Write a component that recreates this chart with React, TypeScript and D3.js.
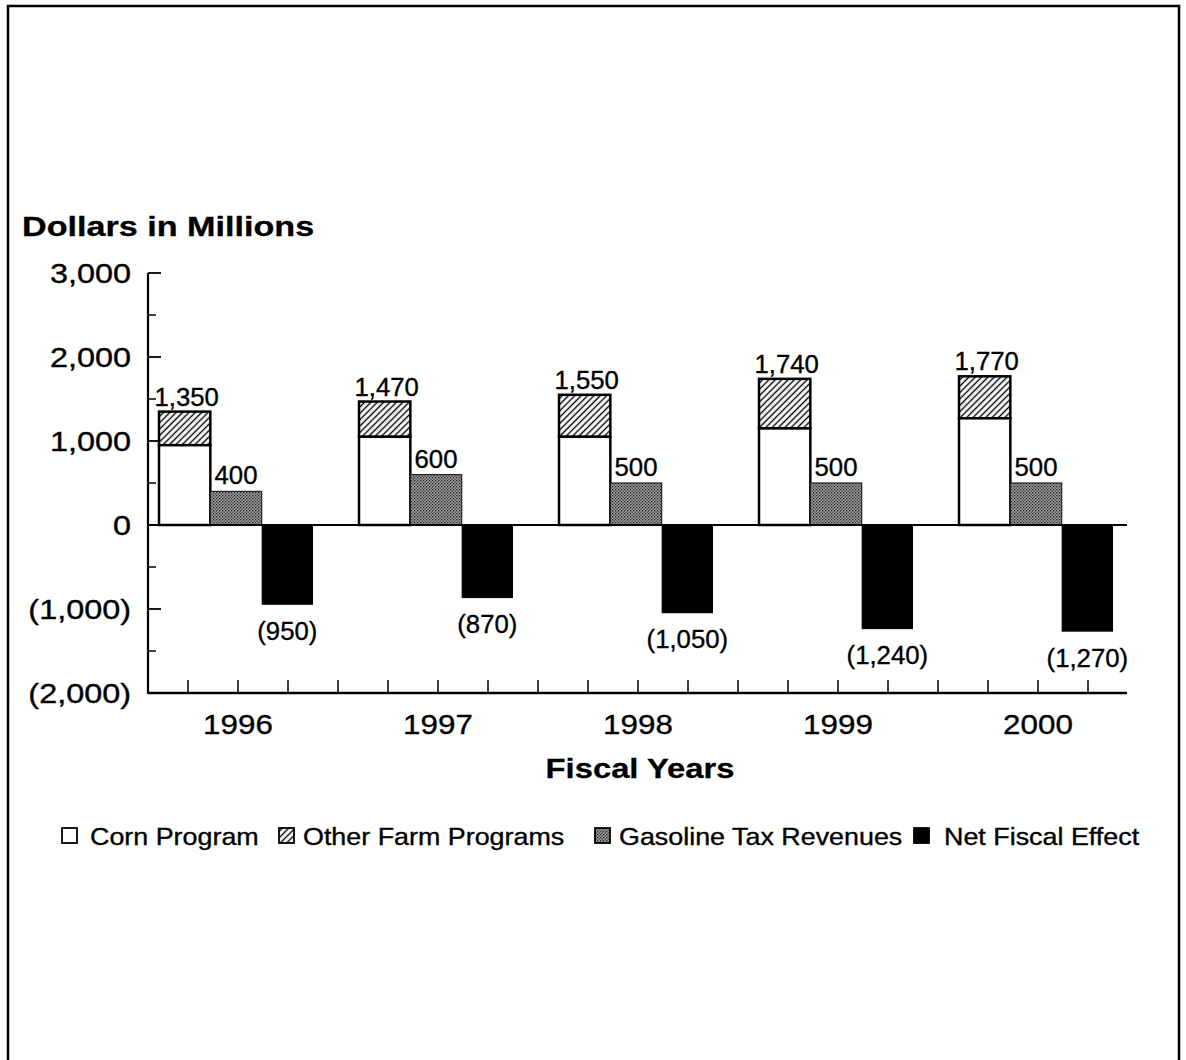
import React from "react";
import * as d3 from "d3";

const years = ["1996", "1997", "1998", "1999", "2000"];
const cornProgram = [950, 1050, 1050, 1150, 1270];
const otherFarmPrograms = [400, 420, 500, 590, 500];
const gasolineTaxRevenues = [400, 600, 500, 500, 500];
const netFiscalEffect = [-950, -870, -1050, -1240, -1270];
const yTickValues = [3000, 2000, 1000, 0, -1000, -2000];
const yMinorTickValues = [2500, 1500, 500, -500, -1500];
const seriesKeys = ["corn", "gas", "net"];
const legendLabels = ["Corn Program", "Other Farm Programs", "Gasoline Tax Revenues", "Net Fiscal Effect"];

const FONT = "'Liberation Sans', Arial, Helvetica, sans-serif";

function T({ x, y, sx = 1, anchor = "start", size, weight = "normal", children }: any) {
  return (
    <text
      transform={`translate(${x},${y}) scale(${sx},1)`}
      textAnchor={anchor}
      fontSize={size}
      fontWeight={weight}
      fontFamily={FONT}
      fill="#000"
      stroke="#000"
      strokeWidth={weight === "bold" ? 0.3 : 0.35}
    >
      {children}
    </text>
  );
}

const fmt = (v: number) => (v < 0 ? `(${d3.format(",")(-v)})` : d3.format(",")(v));

export default function App() {
  const W = 1186;
  const H = 1060;
  const axisLeft = 148;
  const axisRight = 1127;
  const y = d3.scaleLinear().domain([-2000, 3000]).range([693, 273]);
  const x0 = d3.scaleBand().domain(years).range([136, 1136]);
  const x1 = d3.scaleBand().domain(seriesKeys).range([23, 177]);
  const slot = d3.scaleLinear().domain([0, 20]).range([138, 1138]);
  const xTicks = d3.range(1, 20).map((i) => slot(i));
  const bw = x1.bandwidth();

  const legendItems = [
    { box: 62, text: 90, fill: "#fff" },
    { box: 279, text: 303, fill: "url(#hatch)" },
    { box: 595, text: 619, fill: "url(#dots)" },
    { box: 914, text: 944, fill: "#000" },
  ];

  return (
    <svg width={W} height={H} style={{ position: "absolute", left: 0, top: 0, background: "#fff" }}>
      <defs>
        <pattern id="hatch" patternUnits="userSpaceOnUse" width={4.5} height={4.5} patternTransform="rotate(45)">
          <rect width={4.5} height={4.5} fill="#fff" />
          <line x1={2.25} y1={0} x2={2.25} y2={4.5} stroke="#000" strokeWidth={1.4} />
        </pattern>
        <pattern id="dots" patternUnits="userSpaceOnUse" width={3} height={3}>
          <rect width={3} height={3} fill="#a0a0a0" />
          <rect x={0} y={0} width={1.3} height={1.3} fill="#222" />
          <rect x={1.5} y={1.5} width={1.3} height={1.3} fill="#333" />
        </pattern>
      </defs>
      <rect x={0} y={0} width={W} height={H} fill="#fff" />
      {/* frame */}
      <path d={`M8,${H + 5} L8,6 L1179,6 L1179,${H + 5}`} fill="none" stroke="#000" strokeWidth={2.5} />

      {/* title */}
      <T x={22} y={236} size={28} weight="bold" sx={1.22}>Dollars in Millions</T>

      {/* y ticks */}
      {yTickValues.map((v) => (
        <g key={v}>
          <line x1={axisLeft} x2={axisLeft + 13} y1={y(v)} y2={y(v)} stroke="#000" strokeWidth={1.8} />
          <T x={131} y={y(v) + 10} size={27} sx={1.2} anchor="end">{fmt(v)}</T>
        </g>
      ))}
      {yMinorTickValues.map((v) => (
        <line key={v} x1={axisLeft} x2={axisLeft + 8} y1={y(v)} y2={y(v)} stroke="#000" strokeWidth={1.5} />
      ))}

      {/* bars */}
      {years.map((yr, i) => {
        const gx = x0(yr)!;
        const cx = gx + x1("corn")!;
        const gasX = gx + x1("gas")!;
        const netX = gx + x1("net")!;
        const total = cornProgram[i] + otherFarmPrograms[i];
        return (
          <g key={yr}>
            <rect x={cx} y={y(total)} width={bw} height={y(cornProgram[i]) - y(total)} fill="url(#hatch)" stroke="#000" strokeWidth={2.5} />
            <rect x={cx} y={y(cornProgram[i])} width={bw} height={y(0) - y(cornProgram[i])} fill="#fff" stroke="#000" strokeWidth={2.5} />
            <rect x={gasX} y={y(gasolineTaxRevenues[i])} width={bw} height={y(0) - y(gasolineTaxRevenues[i])} fill="url(#dots)" stroke="#222" strokeWidth={1.2} />
            <rect x={netX} y={y(0)} width={bw} height={y(netFiscalEffect[i]) - y(0)} fill="#000" />
            <T x={cx + bw / 2 + 2} y={y(total) - 6} size={25} anchor="middle" sx={1.03}>{fmt(total)}</T>
            <T x={gasX + bw / 2} y={y(gasolineTaxRevenues[i]) - 7} size={25} anchor="middle" sx={1.03}>{fmt(gasolineTaxRevenues[i])}</T>
            <T x={netX + bw / 2} y={y(netFiscalEffect[i]) + 35} size={25} anchor="middle" sx={1.03}>{fmt(netFiscalEffect[i])}</T>
            <T x={gx + 102} y={734} size={28} anchor="middle" sx={1.12}>{yr}</T>
          </g>
        );
      })}

      {/* zero line */}
      <line x1={axisLeft} x2={axisRight} y1={y(0)} y2={y(0)} stroke="#000" strokeWidth={2} />
      {/* axes */}
      <line x1={axisLeft} x2={axisLeft} y1={y(3000)} y2={y(-2000) + 1} stroke="#000" strokeWidth={2.2} />
      <line x1={axisLeft} x2={axisRight} y1={y(-2000)} y2={y(-2000)} stroke="#000" strokeWidth={2.5} />
      {xTicks.filter((t) => t < axisRight).map((t) => (
        <line key={t} x1={t} x2={t} y1={y(-2000)} y2={y(-2000) - 13} stroke="#000" strokeWidth={1.5} />
      ))}

      <T x={640} y={778} size={28} weight="bold" anchor="middle" sx={1.17}>Fiscal Years</T>

      {/* legend */}
      {legendItems.map((it, i) => (
        <g key={i}>
          <rect x={it.box} y={828} width={15} height={15} fill={it.fill} stroke="#000" strokeWidth={1.8} />
          <T x={it.text} y={845} size={24} sx={1.12}>{legendLabels[i]}</T>
        </g>
      ))}
    </svg>
  );
}
